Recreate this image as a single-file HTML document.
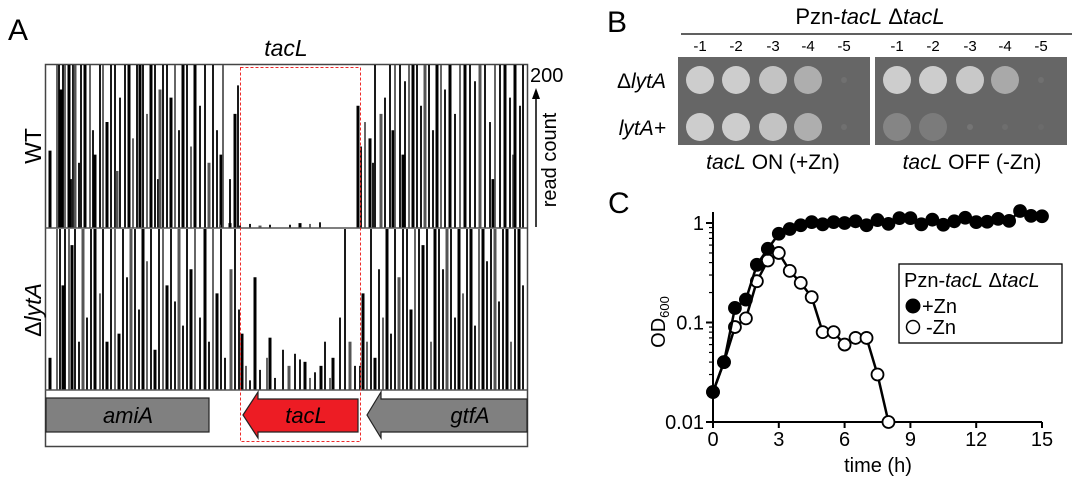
<!DOCTYPE html>
<html><head><meta charset="utf-8"><style>
body{margin:0;background:#fff;}
svg{display:block;font-family:"Liberation Sans",sans-serif;}
</style></head><body>
<svg id="fig" width="1086" height="481" viewBox="0 0 1086 481">
<text x="8" y="40" font-size="30">A</text>
<text x="286" y="56" font-size="23" font-style="italic" text-anchor="middle">tacL</text>
<rect x="45.5" y="64.5" width="482" height="382" fill="#fff" stroke="#444" stroke-width="1.5"/>
<g id="tracks"></g>
<line x1="45" y1="228" x2="527" y2="228" stroke="#555" stroke-width="1.5"/>
<line x1="45" y1="390" x2="527" y2="390" stroke="#555" stroke-width="1.5"/>
<text transform="translate(41,146) rotate(-90)" font-size="23" text-anchor="middle">WT</text>
<text transform="translate(41,310) rotate(-90)" font-size="23" text-anchor="middle" font-style="italic"><tspan font-style="normal">Δ</tspan>lytA</text>
<text x="530" y="82" font-size="20">200</text>
<line x1="536" y1="227" x2="536" y2="96" stroke="#000" stroke-width="1.5"/>
<polygon points="536,88 532,99 540,99" fill="#000"/>
<text transform="translate(556,160) rotate(-90)" font-size="20" text-anchor="middle">read count</text>
<rect x="46" y="398" width="163" height="34" fill="#808080" stroke="#222" stroke-width="1.2"/>
<text x="128" y="423" font-size="22" font-style="italic" text-anchor="middle">amiA</text>
<polygon points="243,415 258,392 258,399 358,399 358,432 258,432 258,438" fill="#ed1c24" stroke="#222" stroke-width="1.2"/>
<text x="306" y="423" font-size="22" font-style="italic" text-anchor="middle">tacL</text>
<polygon points="367,415 381,392 381,399 527,399 527,432 381,432 381,438" fill="#808080" stroke="#222" stroke-width="1.2"/>
<text x="470" y="423" font-size="22" font-style="italic" text-anchor="middle">gtfA</text>
<rect x="240.5" y="67.5" width="120" height="374" fill="none" stroke="#ee2a2a" stroke-width="1" stroke-dasharray="3,2"/>

<text x="607" y="32" font-size="30">B</text>
<text x="870" y="24" font-size="22" text-anchor="middle">Pzn-<tspan font-style="italic">tacL</tspan> Δ<tspan font-style="italic">tacL</tspan></text>
<line x1="681" y1="34" x2="1072" y2="34" stroke="#000" stroke-width="1.2"/>
<g id="plates"></g>
<text x="666" y="88" font-size="21" font-style="italic" text-anchor="end"><tspan font-style="normal">Δ</tspan>lytA</text>
<text x="666" y="135" font-size="21" font-style="italic" text-anchor="end">lytA+</text>
<text x="773" y="169" font-size="21" text-anchor="middle"><tspan font-style="italic">tacL</tspan> ON (+Zn)</text>
<text x="972" y="169" font-size="21" text-anchor="middle"><tspan font-style="italic">tacL</tspan> OFF (-Zn)</text>

<text x="608" y="213" font-size="30">C</text>
<g id="chart"></g>
</svg>
<script>
const NS='http://www.w3.org/2000/svg';
function mk(tag,attrs,parent){const e=document.createElementNS(NS,tag);for(const k in attrs)e.setAttribute(k,attrs[k]);parent.appendChild(e);return e;}

// ---- Panel A data: genome position (0-482) and read counts (0-200)
const wtPos=[5,12,14,16,18,20,24,26,28,30,34,36,40,45,48,50,55,58,62,66,70,72,75,80,84,88,92,95,98,102,106,110,113,115,118,122,126,130,134,138,142,146,150,155,160,164,168,172,176,178,185,190,193,
 175,185,195,205,215,225,245,255,265,275,
 313,316,320,325,328,330,336,340,345,348,350,355,358,360,364,368,372,376,380,384,388,392,396,400,405,410,415,420,425,430,435,440,445,448,450,455,460,465,468,470,475,478];
const wtVal=[95,200,200,170,200,200,200,60,200,200,80,200,200,200,120,90,200,200,130,200,200,70,160,200,200,110,200,200,200,140,200,200,60,170,200,200,160,200,120,200,200,100,200,150,200,80,200,120,90,200,60,140,175,
 4,6,3,5,3,4,4,6,5,7,
 150,100,130,110,80,200,140,160,200,120,200,200,90,180,200,200,200,150,200,200,120,200,200,170,200,140,200,200,200,180,200,200,130,60,200,200,200,160,90,200,150,200];
const dlPos=[5,12,15,18,20,24,27,30,34,38,42,46,50,55,58,62,66,70,74,78,82,86,90,94,98,102,106,110,114,118,122,126,130,134,138,142,146,150,155,160,164,168,172,176,180,186,190,194,
 197,201,205,210,215,222,225,230,238,244,250,255,260,265,270,276,280,285,288,295,300,305,310,
 315,318,322,326,330,334,338,342,346,350,354,358,362,366,370,374,378,382,386,390,394,398,402,406,410,414,418,422,426,430,434,438,442,446,450,454,458,462,466,470,474,478];
const dlVal=[40,200,200,130,200,200,180,200,60,200,90,200,200,120,200,60,200,200,70,200,140,200,200,100,200,160,200,50,200,200,130,200,110,200,80,200,150,200,90,200,60,200,120,200,40,150,200,100,
 70,30,12,140,25,40,65,15,50,30,45,38,35,15,22,30,60,15,40,90,200,60,30,
 30,120,60,200,40,150,90,200,70,200,140,200,200,100,200,200,180,200,60,200,200,150,200,200,90,200,120,200,200,80,200,200,160,200,200,110,200,200,60,200,200,130];
const trkLeft=45, trkW=482;
const tracks=document.getElementById('tracks');
function drawTrack(pos,val,base,h){
  pos.forEach((p,i)=>{
    const x=trkLeft+p*trkW/482;
    const y=base-val[i]/200*h;
    const b=mk('line',{x1:x,x2:x,y1:base,y2:y,stroke:(i%4===1?'#555':'#000'),'stroke-width':(i%3===0?3:1.8)},tracks);
    
    
  });
}
drawTrack(wtPos,wtVal,228,163);
drawTrack(dlPos,dlVal,390,161);

// ---- Panel B spot plates
const dilutions=['-1','-2','-3','-4','-5'];
const plateX=[678,875], plateW=192;
const colsOffset=[22,58,95,130,166];
const rowsY=[80,127];
const onBright=[[1,1,0.9,0.7,0.1],[1,1,0.9,0.7,0.1]];
const offBright=[[1,1,0.95,0.65,0.1],[0.3,0.2,0.15,0.08,0.05]];
const plates=document.getElementById('plates');
[onBright,offBright].forEach((br,pi)=>{
  const px=plateX[pi];
  const pr=mk('rect',{x:px,y:57,width:plateW,height:88,fill:'#666'},plates);
  
  
  dilutions.forEach((d,ci)=>{
    const t=mk('text',{x:px+colsOffset[ci],y:51,'font-size':15,'text-anchor':'middle'},plates);
    t.textContent=d;
    
    
    rowsY.forEach((ry,ri)=>{
      const b=br[ri][ci];
      const g=Math.round(102+b*(205-102));
      const c=mk('circle',{cx:px+colsOffset[ci],cy:ry,r:b>0.15?14:3,fill:`rgb(${g},${g},${g})`},plates);
      
      
    });
  });
});

// ---- Panel C growth curve
const timeZn=[0,0.5,1,1.5,2,2.5,3,3.5,4,4.5,5,5.5,6,6.5,7,7.5,8,8.5,9,9.5,10,10.5,11,11.5,12,12.5,13,13.5,14,14.5,15];
const odZn=[0.02,0.04,0.14,0.17,0.38,0.55,0.78,0.87,0.95,1.02,0.97,1.02,1.0,1.04,0.95,1.07,0.98,1.12,1.12,0.97,1.08,0.96,1.04,1.13,1.02,1.03,1.1,1.05,1.32,1.18,1.17];
const timeNoZn=[0,0.5,1,1.5,2,2.5,3,3.5,4,4.5,5,5.5,6,6.5,7,7.5,8];
const odNoZn=[0.02,0.04,0.09,0.11,0.26,0.42,0.5,0.33,0.25,0.18,0.08,0.08,0.06,0.07,0.07,0.03,0.01];
const xTicks=[0,3,6,9,12,15];
const yTicks=[0.01,0.1,1];
const yTickLabels=['0.01','0.1','1'];
const X0=713,X1=1042,Y1=223,Y01=422;
const xs=t=>X0+t/15*(X1-X0);
const ys=v=>Y01-(Math.log10(v)+2)/2*(Y01-Y1);
const ch=document.getElementById('chart');
let e=mk('line',{x1:X0,y1:212,x2:X0,y2:Y01,stroke:'#000','stroke-width':2},ch);

e=mk('line',{x1:X0,y1:Y01,x2:X1,y2:Y01,stroke:'#000','stroke-width':2},ch);

xTicks.forEach(t=>{
  const l=mk('line',{x1:xs(t),x2:xs(t),y1:Y01,y2:Y01+6,stroke:'#000','stroke-width':2},ch);
  
  const tx=mk('text',{x:xs(t),y:Y01+24,'font-size':20,'text-anchor':'middle'},ch);
  tx.textContent=t;
  
});
yTicks.forEach((v,i)=>{
  const l=mk('line',{x1:X0-7,x2:X0,y1:ys(v),y2:ys(v),stroke:'#000','stroke-width':2},ch);
  
  const tx=mk('text',{x:X0-9,y:ys(v)+7,'font-size':20,'text-anchor':'end'},ch);
  tx.textContent=yTickLabels[i];
  
  if(i<yTicks.length-1){for(let m=2;m<=9;m++){
    const mm=mk('line',{x1:X0-4,x2:X0,y1:ys(v*m),y2:ys(v*m),stroke:'#000','stroke-width':1.2},ch);
    
  }}
});
e=mk('text',{x:878,y:472,'font-size':20,'text-anchor':'middle'},ch);
e.textContent='time (h)';
e=mk('text',{transform:'translate(665,322) rotate(-90)','font-size':20,'text-anchor':'middle'},ch);
e.innerHTML='OD<tspan font-size="13" dy="4">600</tspan>';

function series(t,v,fill,name){
  const p=mk('polyline',{points:t.map((tt,i)=>xs(tt)+','+ys(v[i])).join(' '),fill:'none',stroke:'#000','stroke-width':2.5},ch);
  
  t.forEach((tt,i)=>{
    const c=mk('circle',{cx:xs(tt),cy:ys(v[i]),r:6,fill:fill,stroke:'#000','stroke-width':1.8},ch);
    
  });
}
series(timeNoZn,odNoZn,'#fff','minus-zn');
series(timeZn,odZn,'#000','plus-zn');
// legend
e=mk('rect',{x:899,y:264,width:163,height:79,fill:'#fff',stroke:'#000','stroke-width':1.3},ch);

e=mk('text',{x:904,y:287,'font-size':20},ch);
e.innerHTML='Pzn-<tspan font-style="italic">tacL</tspan> Δ<tspan font-style="italic">tacL</tspan>';

e=mk('circle',{cx:913,cy:306,r:7,fill:'#000',stroke:'#000'},ch);

e=mk('text',{x:922,y:313,'font-size':20},ch);e.textContent='+Zn';

e=mk('circle',{cx:913,cy:327,r:6.5,fill:'#fff',stroke:'#000','stroke-width':1.5},ch);

e=mk('text',{x:926,y:334,'font-size':20},ch);e.textContent='-Zn';

</script>
</body></html>
